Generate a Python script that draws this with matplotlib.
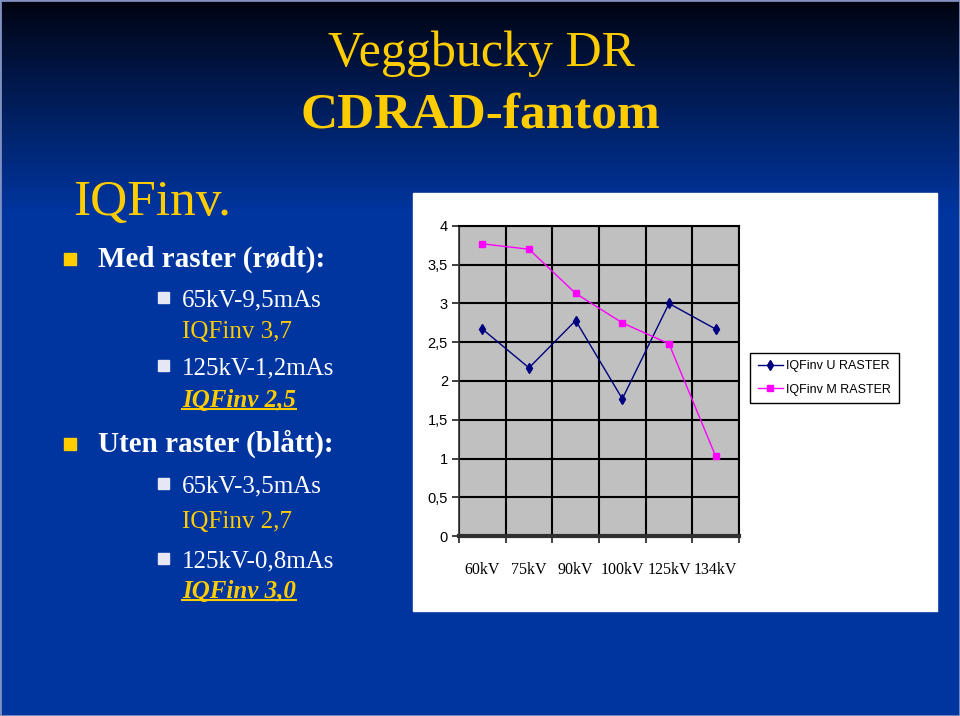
import numpy as np
import matplotlib
matplotlib.use('Agg')
import matplotlib.pyplot as plt
from matplotlib.patches import Rectangle
from matplotlib.lines import Line2D

plt.rcParams['font.family'] = ['Liberation Serif', 'DejaVu Serif']

W, H = 960, 716

# chart data
categories = ['60kV', '75kV', '90kV', '100kV', '125kV', '134kV']
u_raster = [2.67, 2.17, 2.78, 1.77, 3.00, 2.67]
m_raster = [3.77, 3.70, 3.13, 2.75, 2.48, 1.03]
series_names = ['IQFinv U RASTER', 'IQFinv M RASTER']
yticks = [0, 0.5, 1, 1.5, 2, 2.5, 3, 3.5, 4]
ytick_labels = ['0', '0,5', '1', '1,5', '2', '2,5', '3', '3,5', '4']

# slide text
title1 = 'Veggbucky DR'
title2 = 'CDRAD-fantom'
heading = 'IQFinv.'
bullets = [
    # (text, level, style)
    ('Med raster (rødt):', 1, 'head'),
    ('65kV-9,5mAs', 2, 'white'),
    ('IQFinv 3,7', 3, 'gold'),
    ('125kV-1,2mAs', 2, 'white'),
    ('IQFinv 2,5', 3, 'goldbi'),
    ('Uten raster (blått):', 1, 'head'),
    ('65kV-3,5mAs', 2, 'white'),
    ('IQFinv 2,7', 3, 'gold'),
    ('125kV-0,8mAs', 2, 'white'),
    ('IQFinv 3,0', 3, 'goldbi'),
]
baselines = [267, 306, 338, 374, 407, 452, 492, 528, 567, 598]

GOLD = '#ffcc00'


def fx(px):
    return px / W


def fy(py):
    return 1 - py / H


fig = plt.figure(figsize=(9.6, 7.16), dpi=100)

# background gradient
bg = fig.add_axes([0, 0, 1, 1], zorder=-10)
rows = np.linspace(0, 1, H)
t = np.clip(rows / 0.30, 0, 1) ** 0.9
top = np.array([0.0, 0.01, 0.05])
bot = np.array([0.0, 0.21, 0.63])
grad = top[None, :] * (1 - t[:, None]) + bot[None, :] * t[:, None]
grad = np.repeat(grad[:, None, :], 4, axis=1)
bg.imshow(grad, aspect='auto', extent=[0, 1, 0, 1], origin='upper')
bg.set_axis_off()
fig.add_artist(Rectangle((0, 0), 1, 1, transform=fig.transFigure, fill=False,
                         edgecolor='#8090c0', lw=2))

# titles
fig.text(fx(482), fy(66), title1, color=GOLD, fontsize=36, ha='center', va='baseline')
fig.text(fx(480), fy(128), title2, color=GOLD, fontsize=37, fontweight='bold',
         ha='center', va='baseline')

# left text
fig.text(fx(73), fy(215), heading, color=GOLD, fontsize=37, va='baseline')

texts_to_underline = []
for (txt, level, style), yb in zip(bullets, baselines):
    if level == 1:
        fig.add_artist(Rectangle((fx(64), fy(yb - 2)), fx(12), 12 / H,
                                 transform=fig.transFigure, color=GOLD))
        fig.text(fx(98), fy(yb), txt, color='white', fontsize=21,
                 fontweight='bold', va='baseline')
    elif level == 2:
        fig.add_artist(Rectangle((fx(158), fy(yb - 3)), fx(11), 11 / H,
                                 transform=fig.transFigure, color='#e6e6f5'))
        fig.text(fx(182), fy(yb), txt, color='white', fontsize=18, va='baseline')
    else:
        if style == 'goldbi':
            tt = fig.text(fx(182), fy(yb), txt, color=GOLD, fontsize=18,
                          fontweight='bold', fontstyle='italic', va='baseline')
            texts_to_underline.append((tt, yb + 2))
        else:
            fig.text(fx(182), fy(yb), txt, color=GOLD, fontsize=18, va='baseline')

# white chart panel
fig.add_artist(Rectangle((fx(413), fy(611)), fx(937 - 413), (611 - 193) / H,
                         transform=fig.transFigure, color='white', zorder=0))

ax = fig.add_axes([fx(459), fy(536), fx(739 - 459), (536 - 226) / H])
ax.set_facecolor('#c0c0c0')
x = np.arange(len(categories))
ax.plot(x, u_raster, color='#000080', marker='d', ms=5, lw=1, label=series_names[0],
        zorder=3)
ax.plot(x, m_raster, color='#ff00ff', marker='s', ms=5, lw=1, label=series_names[1],
        zorder=3)
ax.set_xlim(-0.5, len(categories) - 0.5)
ax.set_ylim(0, 4)

ax.set_xticks(x)
ax.set_xticklabels(categories, fontsize=11.5, family=['Liberation Serif'])
ax.set_xticks(np.arange(-0.5, len(categories), 1), minor=True)
ax.tick_params(axis='x', which='major', length=0, pad=19)
ax.tick_params(axis='x', which='minor', length=5, width=1.2, color='#202020')
ax.set_yticks(yticks)
ax.set_yticklabels(ytick_labels, fontsize=10.5, family=['Liberation Sans'])
ax.tick_params(axis='y', length=5, width=1.2, color='#202020', pad=3)
ax.grid(which='minor', axis='x', color='black', lw=1.5)
ax.grid(which='major', axis='y', color='black', lw=1.5)
ax.set_axisbelow(True)
for s in ['top', 'right']:
    ax.spines[s].set_color('black')
    ax.spines[s].set_linewidth(1.5)
ax.spines['left'].set_color('#303030')
ax.spines['left'].set_linewidth(1.2)
ax.spines['bottom'].set_color('#303030')
ax.spines['bottom'].set_linewidth(3)

leg = ax.legend(loc='upper left', bbox_to_anchor=(fx(750), fy(353)),
                bbox_transform=fig.transFigure, frameon=True, fancybox=False,
                framealpha=1, edgecolor='black', prop={'family': 'Liberation Sans', 'size': 9},
                handlelength=2.0, borderpad=0.6, labelspacing=0.9, handletextpad=0.3,
                borderaxespad=0)
leg.get_frame().set_linewidth(1)

# underline the bold italic lines
fig.canvas.draw()
inv = fig.transFigure.inverted()
for tt, yl in texts_to_underline:
    bb = tt.get_window_extent().transformed(inv)
    fig.add_artist(Line2D([bb.x0, bb.x1], [fy(yl), fy(yl)], color=GOLD, lw=1.5,
                          transform=fig.transFigure))

fig.savefig('out.png', dpi=100)
